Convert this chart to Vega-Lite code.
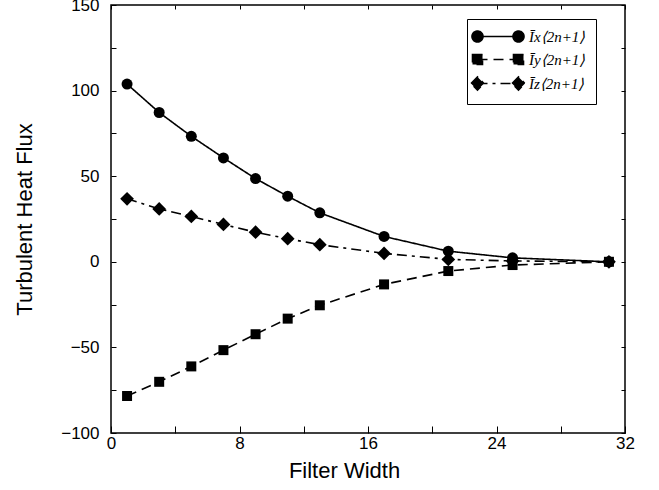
{
  "$schema": "https://vega.github.io/schema/vega-lite/v6.json",
  "width": 514,
  "height": 428,
  "autosize": {"type": "none"},
  "padding": {"left": 111, "top": 5, "right": 34, "bottom": 57},
  "background": "white",
  "config": {
    "view": {"stroke": "black", "strokeWidth": 1.5},
    "font": "Liberation Sans",
    "axis": {"grid": false, "domain": false, "labelColor": "black", "titleColor": "black", "tickColor": "black", "labelFont": "Liberation Sans", "titleFont": "Liberation Sans", "titleFontWeight": "normal", "labelFontSize": 17, "titleFontSize": 22, "tickWidth": 1}
  },
  "data": {"values": [
    {"w": 1, "v": 103.8, "s": "x"}, {"w": 3, "v": 87.2, "s": "x"}, {"w": 5, "v": 73.3, "s": "x"}, {"w": 7, "v": 60.7, "s": "x"}, {"w": 9, "v": 48.6, "s": "x"}, {"w": 11, "v": 38.3, "s": "x"}, {"w": 13, "v": 28.6, "s": "x"}, {"w": 17, "v": 14.8, "s": "x"}, {"w": 21, "v": 6.2, "s": "x"}, {"w": 25, "v": 2.3, "s": "x"}, {"w": 31, "v": 0, "s": "x"},
    {"w": 1, "v": -78.4, "s": "y"}, {"w": 3, "v": -70.1, "s": "y"}, {"w": 5, "v": -61.1, "s": "y"}, {"w": 7, "v": -51.6, "s": "y"}, {"w": 9, "v": -42.3, "s": "y"}, {"w": 11, "v": -33.2, "s": "y"}, {"w": 13, "v": -25.4, "s": "y"}, {"w": 17, "v": -13.2, "s": "y"}, {"w": 21, "v": -5.4, "s": "y"}, {"w": 25, "v": -1.9, "s": "y"}, {"w": 31, "v": 0, "s": "y"},
    {"w": 1, "v": 36.8, "s": "z"}, {"w": 3, "v": 30.9, "s": "z"}, {"w": 5, "v": 26.5, "s": "z"}, {"w": 7, "v": 21.8, "s": "z"}, {"w": 9, "v": 17.3, "s": "z"}, {"w": 11, "v": 13.5, "s": "z"}, {"w": 13, "v": 10.0, "s": "z"}, {"w": 17, "v": 4.9, "s": "z"}, {"w": 21, "v": 1.4, "s": "z"}, {"w": 25, "v": 0.5, "s": "z"}, {"w": 31, "v": 0, "s": "z"}
  ]},
  "layer": [
    {
      "mark": {"type": "line", "color": "black", "strokeWidth": 1.6},
      "encoding": {
        "x": {"field": "w", "type": "quantitative", "scale": {"domain": [0, 32], "nice": false},
          "axis": {"orient": "bottom", "title": "Filter Width", "values": [0, 4, 8, 12, 16, 20, 24, 28, 32], "labelExpr": "datum.value % 8 === 0 ? datum.label : ''", "tickSize": -7, "labelPadding": 9, "labelFlush": false, "titlePadding": 9, "titleX": 233,
            "encode": {"ticks": {"update": {"y2": {"signal": "datum.value % 8 === 0 ? -7 : -4"}}}}}},
        "y": {"field": "v", "type": "quantitative", "scale": {"domain": [-100, 150], "nice": false},
          "axis": {"orient": "left", "title": "Turbulent Heat Flux", "values": [-100, -75, -50, -25, 0, 25, 50, 75, 100, 125, 150], "labelExpr": "datum.value % 50 === 0 ? replace(datum.label, '-', '\u2212') : ''", "tickSize": -5, "labelPadding": 17, "labelFlush": false, "titlePadding": 24,
            "encode": {"ticks": {"update": {"x2": {"signal": "datum.value % 50 === 0 ? 6 : 4"}}}}}},
        "strokeDash": {"field": "s", "type": "nominal",
          "scale": {"domain": ["x", "y", "z"], "range": [[1, 0], [10, 6], [10, 5, 3, 5]]},
          "legend": {"orient": "none", "legendX": 356, "legendY": 14, "title": null,
            "strokeColor": "black", "fillColor": "white", "padding": 10, "cornerRadius": 0,
            "symbolSize": 100, "symbolStrokeColor": "black", "symbolFillColor": "black", "symbolStrokeWidth": 1.6,
            "labelFont": "Liberation Serif", "labelFontStyle": "italic", "labelFontSize": 15, "labelColor": "black", "labelOffset": 37, "rowPadding": 5,
            "labelExpr": "datum.value === 'x' ? 'Īx⟨2n+1⟩' : datum.value === 'y' ? 'Īy⟨2n+1⟩' : 'Īz⟨2n+1⟩'",
            "encode": {"symbols": {"update": {
              "fill": {"value": "black"},
              "stroke": {"value": "black"},
              "strokeWidth": {"value": 1.6},
              "strokeOpacity": {"value": 1},
              "shape": {"signal": "datum.value === 'x' ? 'M-1.4,0L6.8,0M-2.5,0A1.1,1.1,0,1,1,-0.3,0A1.1,1.1,0,1,1,-2.5,0ZM5.7,0A1.1,1.1,0,1,1,7.9,0A1.1,1.1,0,1,1,5.7,0Z' : datum.value === 'y' ? 'M-1.4,0L6.8,0M-2.4,-1L-0.4,-1L-0.4,1L-2.4,1ZM5.8,-1L7.8,-1L7.8,1L5.8,1Z' : 'M-1.4,0L6.8,0M-2.7,0L-1.4,-1.3L-0.1,0L-1.4,1.3ZM5.5,0L6.8,-1.3L8.1,0L6.8,1.3Z'"}
            }}}
          }}
      }
    },
    {
      "transform": [{"filter": "datum.s === 'x'"}],
      "mark": {"type": "point", "filled": true, "color": "black", "opacity": 1, "shape": "circle", "size": 121},
      "encoding": {
        "x": {"field": "w", "type": "quantitative", "scale": {"domain": [0, 32], "nice": false},
          "axis": {"orient": "top", "title": null, "labels": false, "values": [0, 4, 8, 12, 16, 20, 24, 28, 32], "tickSize": -4}},
        "y": {"field": "v", "type": "quantitative", "scale": {"domain": [-100, 150], "nice": false},
          "axis": {"orient": "right", "title": null, "labels": false, "values": [-100, -75, -50, -25, 0, 25, 50, 75, 100, 125, 150], "tickSize": -4}}
      }
    },
    {
      "transform": [{"filter": "datum.s === 'y'"}],
      "mark": {"type": "point", "filled": true, "color": "black", "opacity": 1, "shape": "square", "size": 100},
      "encoding": {
        "x": {"field": "w", "type": "quantitative", "axis": null},
        "y": {"field": "v", "type": "quantitative", "axis": null}
      }
    },
    {
      "transform": [{"filter": "datum.s === 'z'"}],
      "mark": {"type": "point", "filled": true, "color": "black", "opacity": 1, "shape": "diamond", "size": 190},
      "encoding": {
        "x": {"field": "w", "type": "quantitative", "axis": null},
        "y": {"field": "v", "type": "quantitative", "axis": null}
      }
    }
  ],
  "resolve": {"axis": {"x": "independent", "y": "independent"}}
}
